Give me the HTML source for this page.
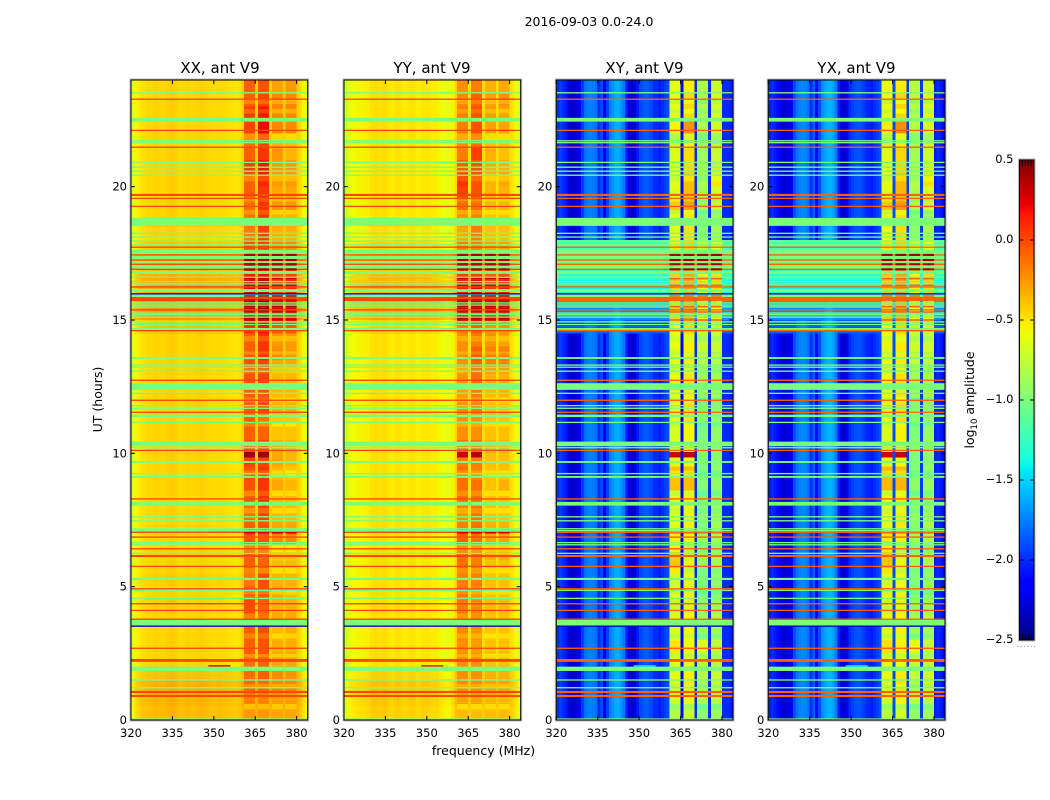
<!DOCTYPE html>
<html lang="en">
<head>
<meta charset="utf-8">
<title>2016-09-03 0.0-24.0</title>
<style>
html,body{margin:0;padding:0;background:#fff;width:1050px;height:800px;overflow:hidden}
svg{display:block}
text{font-family:"DejaVu Sans","Liberation Sans",sans-serif;fill:#000}
.title{font-size:15px;text-anchor:middle}
.tick{font-size:11.5px}
.label{font-size:12.5px;text-anchor:middle}
</style>
</head>
<body>
<svg id="chart" xmlns="http://www.w3.org/2000/svg" width="1050" height="800" viewBox="0 0 1050 800">
  <rect x="0" y="0" width="1050" height="800" fill="#fff"/>
  <g id="panels"></g>
  <g id="colorbar"></g>
  <text x="589" y="26" style="font-size:12.5px;text-anchor:middle">2016-09-03 0.0-24.0</text>
  <text class="title" x="220" y="73">XX, ant V9</text>
  <text class="title" x="432" y="73">YY, ant V9</text>
  <text class="title" x="644.5" y="73">XY, ant V9</text>
  <text class="title" x="856.5" y="73">YX, ant V9</text>
  <text class="label" transform="translate(102,399.5) rotate(-90)">UT (hours)</text>
  <text class="label" x="483.5" y="755">frequency (MHz)</text>
  <text class="label" transform="translate(974,400) rotate(-90)">log<tspan dy="3" style="font-size:8.5px">10</tspan><tspan dy="-3"> amplitude</tspan></text>
</svg>
<script>
// ---------- axis definitions ----------
const freqMin = 320;
const freqMax = 384;
const hourMin = 0;
const hourMax = 24;
const xTickValues = [320, 335, 350, 365, 380];
const yTickValues = [0, 5, 10, 15, 20];
const colorMin = -2.5;
const colorMax = 0.5;
const colorTickValues = [0.5, 0, -0.5, -1, -1.5, -2, -2.5];
const colorTickLabels = ['0.5', '0.0', '\u22120.5', '\u22121.0', '\u22121.5', '\u22122.0', '\u22122.5'];

// ---------- log10 amplitude per 1 MHz channel, 320..383 ----------
const xxSpectrum = [-.66,-.58,-.53,-.5,-.48,-.47,-.46,-.46,-.44,-.44,
  -.45,-.45,-.45,-.43,-.42,-.42,-.44,-.47,-.47,-.46,
  -.44,-.45,-.46,-.45,-.44,-.43,-.44,-.45,-.46,-.47,
  -.47,-.46,-.46,-.47,-.47,-.48,-.49,-.5,-.5,-.48,
  -.42,-.22,-.22,-.22,-.22,-.42,-.18,-.18,-.18,-.18,
  -.42,-.32,-.32,-.32,-.32,-.42,-.32,-.32,-.32,-.32,
  -.42,-.48,-.56,-.64];
const yySpectrum = [-.72,-.65,-.6,-.58,-.56,-.55,-.55,-.54,-.53,-.5,
  -.48,-.47,-.48,-.49,-.47,-.48,-.5,-.52,-.5,-.48,
  -.5,-.52,-.53,-.5,-.48,-.5,-.53,-.52,-.5,-.5,
  -.5,-.52,-.53,-.52,-.55,-.58,-.6,-.62,-.6,-.55,
  -.45,-.35,-.35,-.35,-.35,-.48,-.35,-.35,-.35,-.35,
  -.48,-.4,-.4,-.4,-.4,-.48,-.4,-.4,-.4,-.4,
  -.48,-.52,-.58,-.68];
const xySpectrum = [-2,-1.95,-2,-2.05,-2.25,-2.3,-2.3,-2.25,-2.2,-1.95,
  -1.8,-1.76,-1.74,-1.76,-1.8,-2,-1.9,-2.15,-1.95,-1.75,
  -1.68,-1.62,-1.62,-1.68,-1.78,-2.05,-2.25,-2.3,-2.25,-2.05,
  -1.92,-1.88,-1.85,-1.88,-1.92,-2,-2,-2.05,-2,-1.95,
  -1.9,-.7,-.7,-.7,-.7,-2.15,-.62,-.62,-.62,-.62,
  -2,-.85,-.85,-.85,-.85,-2,-.8,-.8,-.8,-.8,
  -2,-2,-2,-2.05];
const yxSpectrum = [-2.05,-2,-2.05,-2.1,-2.2,-2.3,-2.25,-2.25,-2.15,-1.9,
  -1.78,-1.74,-1.72,-1.74,-1.78,-2,-1.85,-2.1,-1.9,-1.72,
  -1.65,-1.6,-1.6,-1.65,-1.75,-2.05,-2.25,-2.3,-2.2,-2,
  -1.94,-1.9,-1.88,-1.9,-1.94,-2,-2.02,-2.05,-2,-1.95,
  -1.9,-.68,-.68,-.68,-.68,-1.9,-.6,-.6,-.6,-.6,
  -1.95,-.83,-.83,-.83,-.83,-1.95,-.78,-.78,-.78,-.78,
  -2.05,-2,-2.05,-2.1];

// ---------- RFI-band channels (first MHz of each 4-channel band) ----------
const bandStarts = [361, 366, 371, 376];

// ---------- half-hour rows, bottom to top: [broadband shift, band 1..4 shift] ----------
const xxRows = [
[.08,-.12,-.15,-.05,-.05],[.1,-.05,-.1,-.05,-.05],[.12,0,-.05,0,0],[.06,.05,.05,.05,.02],
[0,.1,.1,.02,.02],[0,.15,.15,0,0],[0,.15,.17,-.03,0],[0,.05,.05,.02,.02],
[.02,.2,.1,-.03,-.03],[0,.15,.15,.02,-.03],[.02,.05,.15,-.03,-.03],[0,.15,.1,-.05,-.05],
[0,.15,.1,-.08,-.08],[0,.2,.15,.12,.12],[0,.15,.15,.02,.02],[0,.1,.2,-.03,-.03],
[0,.15,.25,-.03,-.03],[0,.2,.25,.02,-.03],[0,.2,.25,-.03,-.08],[0,.25,.2,.02,-.03],
[0,.2,.2,.02,0],[0,.15,.1,-.08,-.08],[0,.15,.05,-.08,-.08],[0,.17,.2,0,0],
[0,.15,.15,-.03,-.03],[0,.2,.2,-.03,-.03],[0,.2,.2,.02,.02],[0,.15,.25,.1,.07],
[0,.15,.25,.07,.07],[.05,.25,.3,.22,.22],[.2,.4,.45,.37,.37],[.2,.4,.45,.32,.32],
[.15,.3,.35,.22,.32],[.12,.25,.25,.17,.22],[.1,.2,.2,.12,.17],[.05,.15,.15,.07,.07],
[0,.05,.2,0,0],[0,.1,.25,0,0],[0,.1,.25,.07,.07],[0,.15,.25,.02,.02],
[0,.15,.3,.07,.07],[0,.25,.35,.07,.07],[0,.15,.25,.07,-.03],[0,.1,.2,-.01,-.03],
[0,.25,.4,.12,.12],[0,.25,.35,.12,.12],[0,.15,.2,.12,.12],[0,.15,.15,.04,.07]];
const yyRows = [
[.06,-.08,-.08,-.03,-.03],[.08,-.02,-.02,-.03,-.03],[.1,.03,.03,.02,.02],[.05,.08,.08,.02,.02],
[0,.13,.13,.02,.02],[0,.13,.08,.02,.02],[0,.15,.11,0,.02],[0,.08,.13,.02,.02],
[.02,.18,.13,.02,.02],[0,.23,.13,.02,.02],[0,.18,.18,.02,.02],[0,.23,.18,.02,.02],
[0,.23,.18,.07,.07],[0,.28,.23,.12,.12],[0,.18,.23,.07,.07],[0,.13,.23,.02,.02],
[0,.23,.23,.02,.02],[0,.23,.23,.02,.07],[0,.23,.18,.02,.02],[0,.18,.18,.02,.02],
[0,.23,.23,.07,.07],[0,.13,.13,.02,.02],[0,.13,.13,.02,.02],[0,.13,.18,.02,.02],
[0,.08,.18,.04,.07],[0,.11,.23,.07,.07],[0,.13,.28,.22,.22],[0,.13,.28,.22,.22],
[0,.13,.18,.17,.12],[.05,.13,.23,.12,.12],[.2,.48,.53,.47,.52],[.2,.48,.53,.42,.52],
[.15,.38,.43,.32,.42],[.12,.28,.28,.22,.27],[.1,.23,.23,.17,.22],[.05,.13,.13,.07,.07],
[0,.05,.18,.02,.02],[0,.13,.18,.02,.02],[0,.23,.23,.04,.04],[0,.38,.33,.07,.07],
[0,.43,.33,.07,.1],[0,.28,.33,.07,.07],[0,.18,.38,.07,.02],[0,.13,.23,.02,.02],
[0,.18,.33,.12,.12],[0,.18,.33,.14,.12],[0,.15,.28,.12,.17],[0,.13,.18,.07,.1]];
// cross-pol rows: [background floor, band 1..4 shift]
const xyRows = [
[-3,-.1,-.1,-.08,-.08],[-3,0,.05,.05,.02],[-3,.05,.1,.03,.08],[-3,.08,.08,.08,.08],
[-3,.08,0,.08,.04],[-3,.2,.05,.2,.04],[-3,.05,.05,-.06,-.06],[-3,.05,.05,-.02,0],
[-3,-.03,-.03,-.1,-.1],[-3,.08,.08,-.12,-.14],[-3,0,0,-.15,-.12],[-3,.3,0,-.05,-.05],
[-3,.28,-.03,-.03,-.03],[-3,.18,.08,-.03,-.03],[-3,.08,.08,-.12,-.05],[-3,.08,.08,-.05,-.05],
[-3,.08,.08,-.12,-.12],[-3,.32,.25,-.1,-.12],[-3,.32,.25,-.12,-.12],[-3,.05,.03,-.15,-.15],
[-3,.05,.05,-.08,-.08],[-3,.03,.05,-.15,-.12],[-3,.05,.12,-.12,-.12],[-3,.08,.12,-.12,-.12],
[-3,.08,.08,-.05,-.05],[-3,.12,.12,-.03,-.05],[-3,.08,.08,.08,0],[-3,.05,.08,.12,.08],
[-3,.12,.08,.12,.08],[-1.85,.12,.16,.08,.08],[-1.7,.25,.35,.25,.25],[-1.65,.25,.35,.3,.3],
[-1.4,.3,.35,.3,.35],[-1.25,.28,.32,.28,.32],[-1.15,.22,.22,.18,.22],[-1.18,.18,.18,.08,.12],
[-3,.08,.12,-.1,-.05],[-3,.08,.12,-.1,-.05],[-3,.28,.35,0,.08],[-3,.05,.25,0,.12],
[-3,.08,.25,.04,.3],[-3,.05,.15,-.03,.08],[-3,.05,.15,-.03,.08],[-3,0,.08,-.03,.04],
[-3,.15,.38,.04,.12],[-3,.08,.15,.04,.12],[-3,.08,.15,.04,.12],[-3,.08,.08,.04,.08]];
const yxRows = xyRows;

// ---------- short-lived band features, hours ----------
const patchStarts = [9.85, 9.85];
const patchEnds = [10.05, 10.05];
const patchBands = [0, 1];
const patchLevels = [[.42, .42], [.3, .35], [.3, .35], [.3, .35]];
const dipStarts = [23.1, 22.75, 21.75, 20.2, 19.45, 18.95, 14.2, 13.7, 13, 11.9, 11, 9.15, 8.4, 7.75, 6.3, 5.5, 4.7, 3.05, 2.35, 1.2, 0.4];
const dipEnds = [23.28, 22.92, 22, 20.4, 19.6, 19.12, 14.4, 13.82, 13.2, 12.1, 11.18, 9.35, 8.6, 7.95, 6.55, 5.7, 4.85, 3.25, 2.48, 1.35, 0.6];
const dipShifts = [-.12, -.1, -.12, -.12];
const streakHour = 2.03;
const streakStartMhz = 348;
const streakEndMhz = 356;
const streakLevels = [.3, .2, -1.4, -1.4];

// ---------- flagged integrations (hours) ----------
const greenLineHours = [23.52,21.72,21.65,20.91,20.73,20.58,20.43,18.25,18.11,17.96,17.82,16.6,16.44,16.35,15.64,15.56,15.49,15.26,15.2,15.11,14.93,13.31,13.23,13.08,12.25,11.79,11.69,11.16,10.29,10.21,9.24,7.62,7.47,7.17,7.1,6.65,6.57,6.25,4.86,4.56,1.5,1.21];
const greenBlockStarts = [22.44,18.53,17.48,17.29,17.14,16.91,16.73,16.05,15.86,14.81,14.63,13.54,12.38,11.36,10.31,9.64,9.08,8.04,5.25,3.53,1.84,0];
const greenBlockEnds = [22.58,18.83,17.63,17.4,17.21,17.03,16.84,16.16,15.96,14.85,14.7,13.61,12.63,11.45,10.44,9.71,9.15,8.18,5.33,3.75,2,0.06];
const redLineHours = [23.28,22.11,21.48,19.56,19.26,17.73,17.44,17.25,17.09,16.9,16.24,15.38,14.6,12.74,11.99,11.54,10.11,8.29,7.04,6.86,6.42,5.76,4.92,4.36,4.11,3.78,2.69];
const redBlockStarts = [19.65,15.71,6.11,2.18,1.01,0.86];
const redBlockEnds = [19.73,15.86,6.19,2.29,1.09,0.94];
const lowLineHours = [15.98,3.52];
const burstHours = [17.44,17.25,17.09,16.9];
const softBurstHours = [16.55,16.3,15.9,15.75,15.5,15.3,15.0,7.02];

// per-panel flag levels (log10 amplitude)
const greenLevel = -1.0;
const redLevels = [0.0, 0.0, -0.08, -0.08];
const lowLevel = -2.3;
const burstLevels = [0.4, 0.38, 0.42, 0.42];
const softBurstLevels = [0.32, 0.3, -0.1, -0.1];

// ---------- panel layout ----------
const panelNames = ['xx', 'yy', 'xy', 'yx'];
const panelSpectra = [xxSpectrum, yySpectrum, xySpectrum, yxSpectrum];
const panelRows = [xxRows, yyRows, xyRows, yxRows];
const panelCross = [false, false, true, true];
const panelLeft = [131, 344, 556.3, 768.3];
const panelWidth = 176.7;
const plotTop = 80;
const plotBottom = 720;
const rowHours = 0.5;
const barLeft = 1019.5;
const barWidth = 14.5;
const barTop = 160;
const barBottom = 640;

const NS = 'http://www.w3.org/2000/svg';
function xScale(p, mhz) { return panelLeft[p] + (mhz - freqMin) / (freqMax - freqMin) * panelWidth; }
function yScale(hour) { return plotBottom - (hour - hourMin) / (hourMax - hourMin) * (plotBottom - plotTop); }
function barScale(v) { return barBottom - (v - colorMin) / (colorMax - colorMin) * (barBottom - barTop); }
function interp(t, xs, ys) {
  for (let i = 1; i < xs.length; i++) {
    if (t <= xs[i]) return ys[i - 1] + (ys[i] - ys[i - 1]) * (t - xs[i - 1]) / (xs[i] - xs[i - 1]);
  }
  return ys[ys.length - 1];
}
function jet(v) {
  const t = Math.max(0, Math.min(1, (v - colorMin) / (colorMax - colorMin)));
  const r = interp(t, [0, .35, .66, .89, 1], [0, 0, 1, 1, .5]);
  const g = interp(t, [0, .125, .375, .64, .91, 1], [0, 0, 1, 1, 0, 0]);
  const b = interp(t, [0, .11, .34, .65, 1], [.5, 1, 1, 0, 0]);
  return 'rgb(' + Math.round(r * 255) + ',' + Math.round(g * 255) + ',' + Math.round(b * 255) + ')';
}
function rect(parent, x, y, w, h, fill) {
  const el = document.createElementNS(NS, 'rect');
  el.setAttribute('x', x);
  el.setAttribute('y', y);
  el.setAttribute('width', w);
  el.setAttribute('height', h);
  el.setAttribute('fill', fill);
  parent.appendChild(el);
  return el;
}
function line(parent, x1, y1, x2, y2, color) {
  const el = document.createElementNS(NS, 'line');
  el.setAttribute('x1', x1);
  el.setAttribute('y1', y1);
  el.setAttribute('x2', x2);
  el.setAttribute('y2', y2);
  el.setAttribute('stroke', color);
  el.setAttribute('stroke-width', 1);
  parent.appendChild(el);
  return el;
}
function label(parent, x, y, anchor, str) {
  const el = document.createElementNS(NS, 'text');
  el.setAttribute('x', x);
  el.setAttribute('y', y);
  el.setAttribute('text-anchor', anchor);
  el.setAttribute('class', 'tick');
  el.textContent = str;
  parent.appendChild(el);
  return el;
}
function bandIndex(mhz) {
  for (let b = 0; b < bandStarts.length; b++) {
    if (mhz >= bandStarts[b] && mhz < bandStarts[b] + 4) return b;
  }
  return -1;
}
function cellValue(p, ch, r) {
  const mhz = freqMin + ch;
  const row = panelRows[p][r];
  const base = panelSpectra[p][ch];
  const b = bandIndex(mhz);
  if (panelCross[p]) {
    return b >= 0 ? base + row[b + 1] : Math.max(base, row[0]);
  }
  return base + row[0] + (b >= 0 ? row[b + 1] : 0);
}

function drawPanel(p) {
  const host = document.getElementById('panels');
  const g = document.createElementNS(NS, 'g');
  
  
  host.appendChild(g);

  const cells = document.createElementNS(NS, 'g');
  cells.setAttribute('shape-rendering', 'crispEdges');
  
  
  g.appendChild(cells);
  const rows = panelRows[p];
  const spectrum = panelSpectra[p];
  for (let r = 0; r < rows.length; r++) {
    for (let ch = 0; ch < spectrum.length; ch++) {
      const x0 = xScale(p, freqMin + ch);
      const x1 = xScale(p, freqMin + ch + 1);
      const y1 = yScale(r * rowHours);
      const y0 = yScale((r + 1) * rowHours);
      const cell = rect(cells, x0, y0, x1 - x0, y1 - y0, jet(cellValue(p, ch, r)));
      
      
    }
  }

  // quieter intervals inside the RFI bands
  dipStarts.forEach((s, i) => {
    const r = Math.min(rows.length - 1, Math.floor(s / rowHours));
    bandStarts.forEach((bs) => {
      for (let k = 0; k < 4; k++) {
        const ch = bs - freqMin + k;
        const x0 = xScale(p, freqMin + ch);
        const el = rect(cells, x0, yScale(dipEnds[i]), xScale(p, freqMin + ch + 1) - x0, yScale(s) - yScale(dipEnds[i]), jet(cellValue(p, ch, r) + dipShifts[p]));
        
        
      }
    });
  });
  // short strong RFI patches
  patchStarts.forEach((s, i) => {
    const bs = bandStarts[patchBands[i]];
    const x0 = xScale(p, bs);
    const el = rect(cells, x0, yScale(patchEnds[i]), xScale(p, bs + 4) - x0, yScale(s) - yScale(patchEnds[i]), jet(patchLevels[p][i]));
    
    
  });

  const flags = document.createElementNS(NS, 'g');
  
  
  g.appendChild(flags);
  const left = xScale(p, freqMin);
  const full = xScale(p, freqMax) - left;
  function flagRow(start, end, level) {
    const el = rect(flags, left, yScale(end), full, yScale(start) - yScale(end), jet(level));
    
    
  }
  greenBlockStarts.forEach((s, i) => flagRow(s, greenBlockEnds[i], greenLevel));
  greenLineHours.forEach(h => flagRow(h - 0.025, h + 0.025, greenLevel));
  redBlockStarts.forEach((s, i) => flagRow(s, redBlockEnds[i], redLevels[p]));
  redLineHours.forEach(h => flagRow(h - 0.025, h + 0.025, redLevels[p]));
  lowLineHours.forEach(h => flagRow(h - 0.025, h + 0.025, lowLevel));
  function burst(h, half, level) {
    bandStarts.forEach(b => {
      const x0 = xScale(p, b);
      const el = rect(flags, x0, yScale(h + half), xScale(p, b + 4) - x0, yScale(h - half) - yScale(h + half), jet(level));
      
      
    });
  }
  burstHours.forEach(h => burst(h, 0.04, burstLevels[p]));
  softBurstHours.forEach(h => burst(h, 0.03, softBurstLevels[p]));
  const streakX = xScale(p, streakStartMhz);
  const streak = rect(flags, streakX, yScale(streakHour + 0.025), xScale(p, streakEndMhz) - streakX, yScale(streakHour - 0.025) - yScale(streakHour + 0.025), jet(streakLevels[p]));
  
  

  const halo = rect(g, left - 0.5, plotTop - 0.5, full + 1, plotBottom - plotTop + 1, 'none');
  halo.setAttribute('stroke', '#bbb');
  halo.setAttribute('stroke-width', 2);
  
  
  const frame = rect(g, left, plotTop, full, plotBottom - plotTop, 'none');
  frame.setAttribute('stroke', '#000');
  frame.setAttribute('stroke-width', 1);
  
  

  xTickValues.forEach(v => {
    const x = xScale(p, v);
    const t1 = line(g, x, plotBottom, x, plotBottom - 4, '#000');
    
    
    const t2 = line(g, x, plotTop, x, plotTop + 4, '#000');
    
    
    const lab = label(g, x, 737, 'middle', String(v));
    
    
  });
  yTickValues.forEach(v => {
    const y = yScale(v);
    const t1 = line(g, left, y, left + 4, y, '#000');
    
    
    const t2 = line(g, left + full, y, left + full - 4, y, '#000');
    
    
    const lab = label(g, left - 4, y + 4, 'end', String(v));
    
    
  });
}

function drawColorbar() {
  const g = document.getElementById('colorbar');
  const steps = 240;
  const cbar = document.createElementNS(NS, 'g');
  cbar.setAttribute('shape-rendering', 'crispEdges');
  
  
  g.appendChild(cbar);
  for (let i = 0; i < steps; i++) {
    const lo = colorMin + (colorMax - colorMin) * i / steps;
    const hi = colorMin + (colorMax - colorMin) * (i + 1) / steps;
    const seg = rect(cbar, barLeft, barScale(hi), barWidth, barScale(lo) - barScale(hi) + 0.5, jet((lo + hi) / 2));
    
    
  }
  const halo = rect(g, barLeft - 0.5, barTop - 0.5, barWidth + 1, barBottom - barTop + 1, 'none');
  halo.setAttribute('stroke', '#bbb');
  halo.setAttribute('stroke-width', 2);
  
  
  const frame = rect(g, barLeft, barTop, barWidth, barBottom - barTop, 'none');
  frame.setAttribute('stroke', '#000');
  frame.setAttribute('stroke-width', 1);
  
  
  colorTickValues.forEach((v, i) => {
    const y = barScale(v);
    const t1 = line(g, barLeft, y, barLeft + 4, y, '#000');
    
    
    const t2 = line(g, barLeft + barWidth, y, barLeft + barWidth - 4, y, '#000');
    
    
    const lab = label(g, barLeft - 6, y + 3, 'end', colorTickLabels[i]);
    
    
  });
  for (let k = 1; k < 5; k++) {
    const x = barLeft + barWidth * k / 5;
    const a = line(g, x, barTop, x, barTop + 6, '#000');
    
    
    const b = line(g, x, barBottom, x, barBottom - 6, '#000');
    
    
  }
  for (let k = 0; k < 6; k++) {
    const dot = rect(g, barLeft - 2 + k * 3.3, 646, 1, 1, '#999');
    
    
  }
}

panelNames.forEach((n, p) => drawPanel(p));
drawColorbar();
</script>
</body>
</html>
